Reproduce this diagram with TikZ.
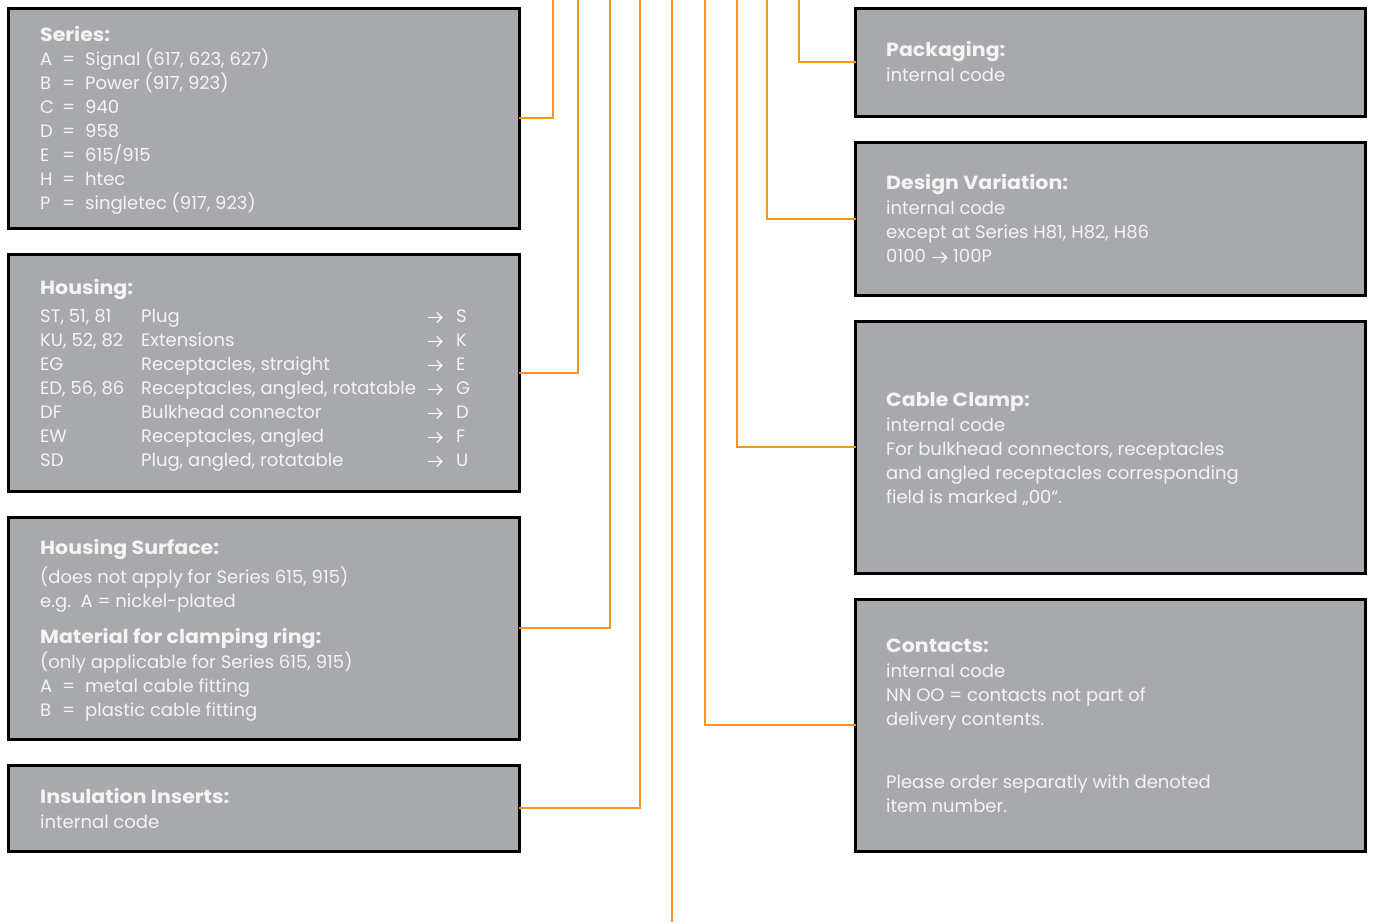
\documentclass[tikz,border=0pt]{standalone}
\usepackage{fontspec}
\setmainfont{Poppins}
\newfontfamily\titlefont{Poppins}[FakeStretch=1.08]
\definecolor{boxgray}{HTML}{A8A9AD}
\definecolor{wireorange}{HTML}{F7941E}
\definecolor{txtcol}{HTML}{F4F4F4}
\newcommand{\rarr}{\tikz[baseline=0pt]\draw[color=txtcol, line width=1.35pt, line cap=butt] (0pt,5pt) -- (14pt,5pt) (9pt,0pt) -- (14pt,5pt) -- (9pt,10pt);}
\newcommand{\eqrow}[2]{\makebox[22pt][l]{#1}\makebox[23pt][l]{=}#2}
\newcommand{\hrow}[3]{\makebox[101pt][l]{#1}\makebox[286pt][l]{#2}\makebox[29pt][l]{\rarr}#3}
\newcommand{\ttl}[1]{{\titlefont\bfseries\fontsize{19}{24}\selectfont #1}}
\tikzset{
  box/.style={draw=black, line width=3pt, fill=boxgray, anchor=north west, inner sep=0pt, outer sep=0pt},
  leftbox/.style={box, minimum width=510.5pt},
  rightbox/.style={box, minimum width=510pt},
  wire/.style={draw=wireorange, line width=2pt},
  txtnode/.style={anchor=base west, inner sep=0pt, text=txtcol, font=\fontsize{18}{24}\selectfont}
}
\begin{document}
\begin{tikzpicture}[x=1pt,y=-1pt]
\useasboundingbox (0,0) rectangle (1381,922);
% boxes
\node[leftbox, minimum height=219.5pt] (series) at (8.5,8.5) {};
\node[leftbox, minimum height=236.5pt] (housing) at (8.5,254.5) {};
\node[leftbox, minimum height=221.5pt] (surface) at (8.5,517.5) {};
\node[leftbox, minimum height=85.5pt] (inserts) at (8.5,765.5) {};
\node[rightbox, minimum height=107.5pt] (packaging) at (855.5,8.5) {};
\node[rightbox, minimum height=152.5pt] (design) at (855.5,142.5) {};
\node[rightbox, minimum height=251.5pt] (clamp) at (855.5,321.5) {};
\node[rightbox, minimum height=251.5pt] (contacts) at (855.5,599.5) {};
% free ends of connectors
\coordinate (tSeries) at (553,0);
\coordinate (tHousing) at (578,0);
\coordinate (tSurface) at (610,0);
\coordinate (tInserts) at (640,0);
\coordinate (tCenter) at (672,0);
\coordinate (bCenter) at (672,922);
\coordinate (tContacts) at (705,0);
\coordinate (tClamp) at (737,0);
\coordinate (tDesign) at (767,0);
\coordinate (tPackaging) at (799,0);
% connectors
\draw[wire] (series.east) -| (tSeries);
\draw[wire] (housing.east) -| (tHousing);
\draw[wire] (surface.east) -| (tSurface);
\draw[wire] (inserts.east) -| (tInserts);
\draw[wire] (tCenter) -- (bCenter);
\draw[wire] (contacts.west) -| (tContacts);
\draw[wire] (clamp.west) -| (tClamp);
\draw[wire] (design.west) -| (tDesign);
\draw[wire] (packaging.west) -| (tPackaging);
% texts
\node[txtnode] (seriesT) at (40,41.5) {\begin{tabular}[t]{@{}l@{}}
\ttl{Series:}\\
\eqrow{A}{Signal (617, 623, 627)}\\
\eqrow{B}{Power (917, 923)}\\
\eqrow{C}{940}\\
\eqrow{D}{958}\\
\eqrow{E}{615/915}\\
\eqrow{H}{htec}\\
\eqrow{P}{singletec (917, 923)}
\end{tabular}};
\node[txtnode] (housingT) at (40,294.5) {\begin{tabular}[t]{@{}l@{}}
\ttl{Housing:}\\[4pt]
\hrow{ST, 51, 81}{Plug}{S}\\
\hrow{KU, 52, 82}{Extensions}{K}\\
\hrow{EG}{Receptacles, straight}{E}\\
\hrow{ED, 56, 86}{Receptacles, angled, rotatable}{G}\\
\hrow{DF}{Bulkhead connector}{D}\\
\hrow{EW}{Receptacles, angled}{F}\\
\hrow{SD}{Plug, angled, rotatable}{U}
\end{tabular}};
\node[txtnode] (surfaceT) at (40,554.5) {\begin{tabular}[t]{@{}l@{}}
\ttl{Housing Surface:}\\[5pt]
(does not apply for Series 615, 915)\\
e.g.\ \ A = nickel-plated\\[12pt]
\ttl{Material for clamping ring:}\\[1pt]
(only applicable for Series 615, 915)\\
\eqrow{A}{metal cable fitting}\\
\eqrow{B}{plastic cable fitting}
\end{tabular}};
\node[txtnode] (insertsT) at (40,803.5) {\begin{tabular}[t]{@{}l@{}}
\ttl{Insulation Inserts:}\\[1pt]
internal code
\end{tabular}};
\node[txtnode] (packagingT) at (886,56.5) {\begin{tabular}[t]{@{}l@{}}
\ttl{Packaging:}\\[1pt]
internal code
\end{tabular}};
\node[txtnode] (designT) at (886,189.5) {\begin{tabular}[t]{@{}l@{}}
\ttl{Design Variation:}\\[1pt]
internal code\\
except at Series H81, H82, H86\\
0100\hspace{6pt}\rarr\hspace{6pt}100P
\end{tabular}};
\node[txtnode] (clampT) at (886,406.5) {\begin{tabular}[t]{@{}l@{}}
\ttl{Cable Clamp:}\\[1pt]
internal code\\
For bulkhead connectors, receptacles\\
and angled receptacles corresponding\\
field is marked „00“.
\end{tabular}};
\node[txtnode] (contactsT) at (886,652.5) {\begin{tabular}[t]{@{}l@{}}
\ttl{Contacts:}\\[1pt]
internal code\\
NN OO = contacts not part of\\
delivery contents.\\[39pt]
Please order separatly with denoted\\
item number.
\end{tabular}};
\end{tikzpicture}
\end{document}
